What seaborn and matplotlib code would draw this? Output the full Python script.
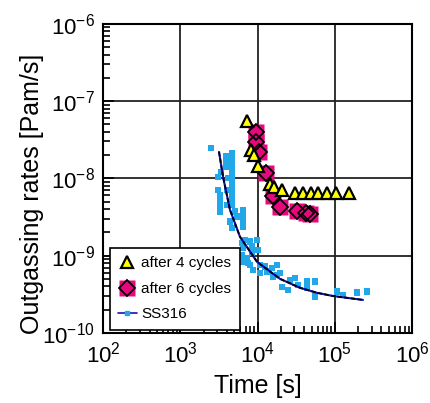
import matplotlib
matplotlib.use("Agg")
import matplotlib.pyplot as plt
from matplotlib.lines import Line2D
from matplotlib.legend_handler import HandlerTuple
from matplotlib.ticker import LogLocator, NullFormatter
import seaborn as sns

# after 4 cycles
t4 = [7310, 8240, 9010, 10150, 14500, 16360, 20770, 30560, 38800, 49300,
      60700, 79400, 103700, 152900]
q4 = [5.55e-8, 2.34e-8, 2.01e-8, 1.45e-8, 8.5e-9, 7.76e-9, 7.1e-9, 6.5e-9,
      6.5e-9, 6.5e-9, 6.5e-9, 6.5e-9, 6.5e-9, 6.5e-9]

# after 6 cycles
t6 = [9570, 9570, 10450, 12880, 15880, 19550, 32460, 42460, 47840]
q6 = [4.0e-8, 2.97e-8, 2.2e-8, 1.18e-8, 5.94e-9, 4.28e-9, 3.8e-9, 3.58e-9, 3.47e-9]

# SS316 measured points
t_ss = [2500, 3910, 4680, 3910, 4680, 3910, 4680, 3370, 4680, 3110, 4110, 4680,
        4680, 3110, 3990, 4680, 3270, 4680, 3270, 4680, 3270, 3990, 4680, 3270,
        5110, 6550, 5380, 6550, 4400, 6550, 4630, 6550, 6250, 6890, 8000, 9770,
        6550, 8410, 6250, 7250, 8410, 10240, 6250, 7600, 10770, 12500, 8830,
        10770, 13150, 15280, 17740, 16030, 19560, 26360, 30570, 8000, 17740,
        20560, 25060, 33730, 43350, 55500, 43350, 55500, 106000, 129000,
        192000, 259000]
q_ss = [2.46e-8, 1.95e-8, 2.12e-8, 1.65e-8, 1.79e-8, 1.42e-8, 1.50e-8, 1.22e-8,
        1.26e-8, 1.04e-8, 1.01e-8, 1.05e-8, 8.67e-9, 7.10e-9, 7.10e-9, 7.25e-9,
        6.11e-9, 6.11e-9, 5.27e-9, 5.27e-9, 4.41e-9, 4.54e-9, 4.54e-9, 3.72e-9,
        3.72e-9, 3.83e-9, 3.20e-9, 3.27e-9, 2.76e-9, 2.76e-9, 2.27e-9, 2.34e-9,
        1.45e-9, 1.60e-9, 1.52e-9, 1.60e-9, 1.25e-9, 1.31e-9, 1.02e-9, 9.27e-10,
        1.08e-9, 1.19e-9, 8.38e-10, 7.98e-10, 7.59e-10, 7.21e-10, 6.54e-10,
        5.93e-10, 6.22e-10, 6.87e-10, 7.59e-10, 5.36e-10, 5.93e-10, 4.85e-10,
        5.11e-10, 7.59e-10, 5.64e-10, 3.97e-10, 3.61e-10, 4.18e-10, 4.61e-10,
        4.61e-10, 3.79e-10, 2.95e-10, 3.43e-10, 3.10e-10, 3.33e-10, 3.43e-10]

# SS316 fit curve
t_fit = [3175, 3575, 4405, 5930, 9860, 19550, 35470, 58900, 94900, 232000]
q_fit = [2.2e-8, 1.05e-8, 3.9e-9, 1.75e-9, 8.3e-10, 5.0e-10, 3.83e-10, 3.3e-10,
         3.0e-10, 2.67e-10]

sns.set_style('ticks')
plt.rcParams['font.family'] = ['Liberation Sans', 'DejaVu Sans']
plt.rcParams['text.color'] = 'black'
plt.rcParams['axes.labelcolor'] = 'black'
plt.rcParams['xtick.color'] = 'black'
plt.rcParams['ytick.color'] = 'black'

fig = plt.figure(figsize=(4.31, 4.03), dpi=100)
ax = fig.add_axes([0.239, 0.174, 0.717, 0.767])

ss_blue = '#22a8e8'
sns.scatterplot(x=t_ss, y=q_ss, ax=ax, marker='s', s=20, color=ss_blue,
                edgecolor='none', zorder=3)
ax.plot(t_fit, q_fit, color='#1010c0', lw=1.5, zorder=4)
ax.plot(t_fit, q_fit, color='black', lw=1.3, dashes=(2.5, 1.2), zorder=5)

pink = '#e8087e'
ax.plot(t6, q6, ls='none', marker='s', ms=11, mfc=pink, mec='none', zorder=6)
ax.plot(t6, q6, ls='none', marker='D', ms=8, mfc='none', mec='black',
        mew=1.3, zorder=7)
ax.plot(t4, q4, ls='none', marker='^', ms=8.5, mfc='#ffff00', mec='black',
        mew=1.6, zorder=8)

ax.set_xscale('log')
ax.set_yscale('log')
ax.set_xlim(1e2, 1e6)
ax.set_ylim(1e-10, 1e-6)

ax.grid(which='major', color='#222222', lw=1.3)
ax.set_axisbelow(True)
for sp in ax.spines.values():
    sp.set_linewidth(1.5)
    sp.set_color('black')

ax.xaxis.set_minor_locator(LogLocator(base=10, subs=range(2, 10)))
ax.yaxis.set_minor_locator(LogLocator(base=10, subs=range(2, 10)))
ax.xaxis.set_minor_formatter(NullFormatter())
ax.yaxis.set_minor_formatter(NullFormatter())
ax.tick_params(which='both', direction='in', top=False, right=False,
               labelsize=16, color='black', width=1.2)
ax.tick_params(which='major', length=8, pad=6)
ax.tick_params(which='minor', length=5)

ax.set_xlabel('Time [s]', fontsize=18, labelpad=5)
ax.set_ylabel('Outgassing rates [Pam/s]', fontsize=18)
ax.yaxis.set_label_coords(-0.19, 0.45)

h4 = Line2D([], [], ls='none', marker='^', ms=8.5, mfc='#ffff00', mec='black',
            mew=1.6)
h6a = Line2D([], [], ls='none', marker='s', ms=11, mfc=pink, mec='none')
h6b = Line2D([], [], ls='none', marker='D', ms=8, mfc='none', mec='black',
             mew=1.3)
hss = Line2D([], [], color='#1010c0', lw=1.2, marker='s', ms=3,
             mfc=ss_blue, mec=ss_blue, markevery=[0, 1])
leg = ax.legend([h4, (h6a, h6b), hss],
                ['after 4 cycles', 'after 6 cycles', 'SS316'],
                handler_map={tuple: HandlerTuple(ndivide=1, pad=0)},
                numpoints=1,
                loc='lower left', bbox_to_anchor=(0.022, 0.01),
                borderaxespad=0, fontsize=11, fancybox=False,
                framealpha=1, edgecolor='black', handlelength=1.2,
                handletextpad=0.3, labelspacing=0.75, borderpad=0.55)
leg.get_frame().set_linewidth(1.2)
leg.set_zorder(10)

fig.savefig('out.png', dpi=100)
